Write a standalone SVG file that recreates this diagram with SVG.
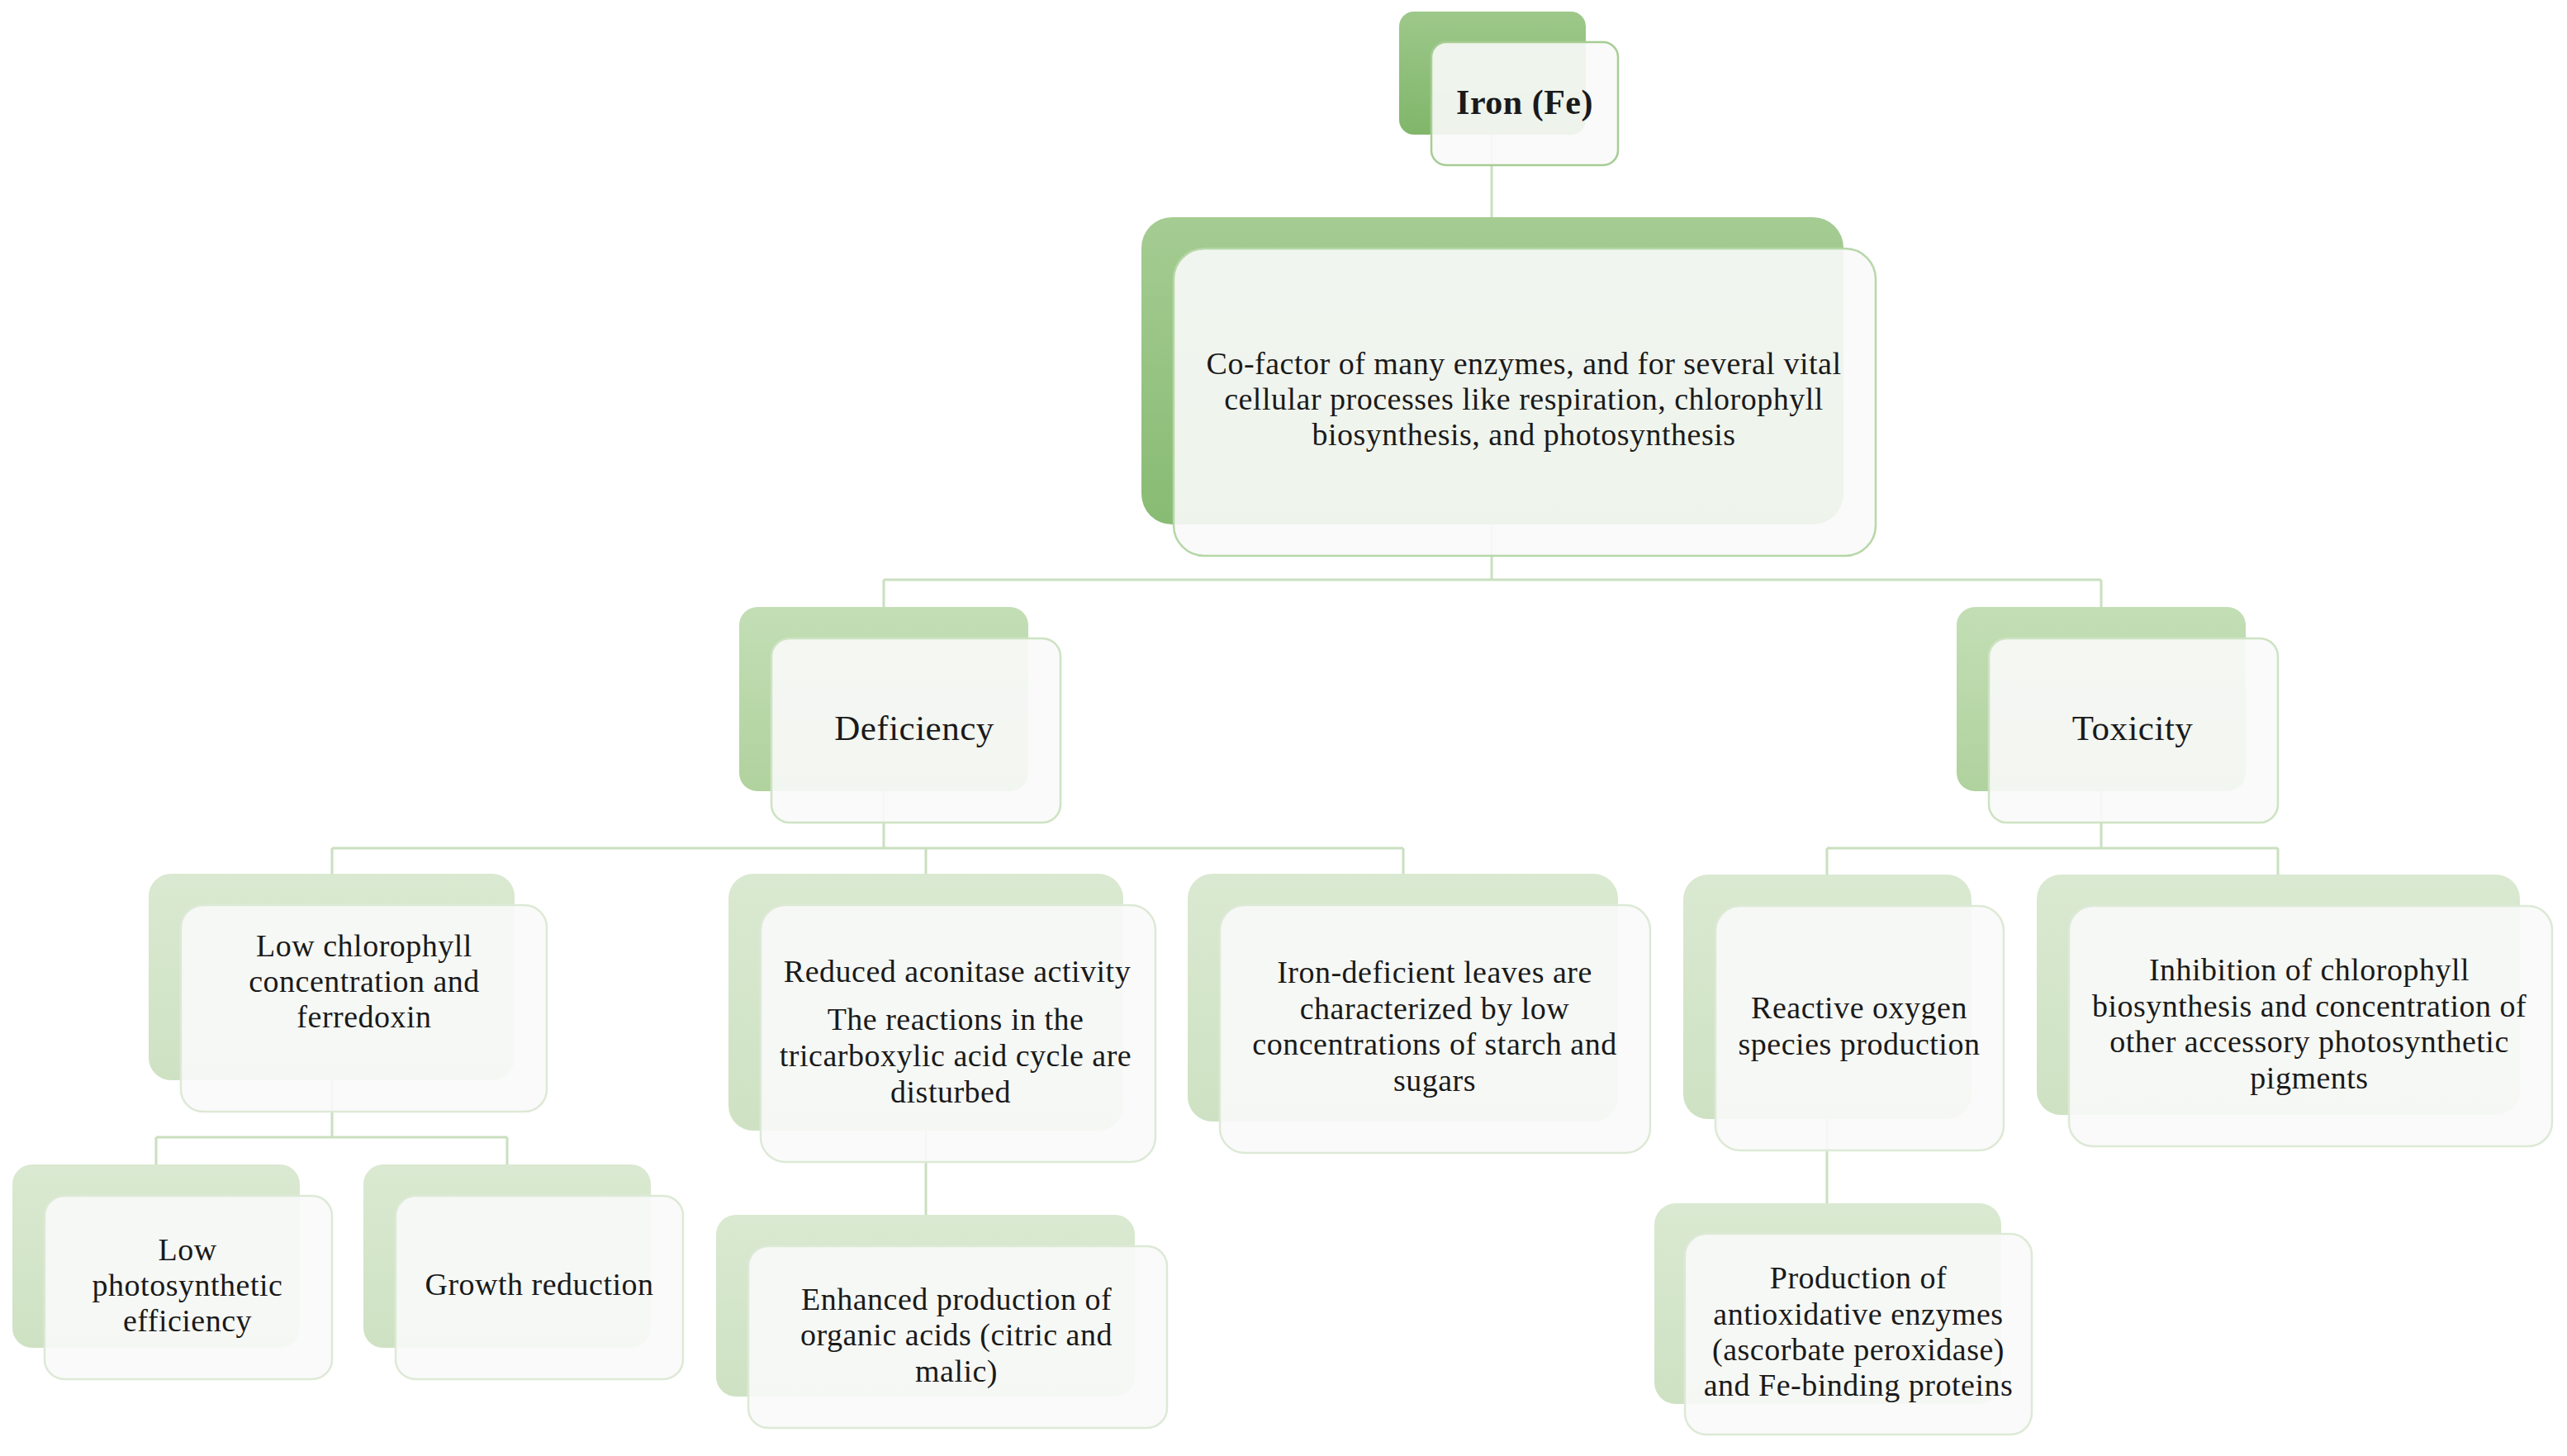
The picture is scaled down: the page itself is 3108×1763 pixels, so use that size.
<svg xmlns="http://www.w3.org/2000/svg" width="3108" height="1763" viewBox="0 0 3108 1763">
<defs>
<linearGradient id="g1" x1="0" y1="0" x2="0" y2="1"><stop offset="0" stop-color="#9dc88a"/><stop offset="1" stop-color="#80b66a"/></linearGradient>
<linearGradient id="g2" x1="0" y1="0" x2="0" y2="1"><stop offset="0" stop-color="#a5cc93"/><stop offset="1" stop-color="#88bb73"/></linearGradient>
<linearGradient id="g3" x1="0" y1="0" x2="0" y2="1"><stop offset="0" stop-color="#c3deb5"/><stop offset="1" stop-color="#b0d29e"/></linearGradient>
<linearGradient id="g4" x1="0" y1="0" x2="0" y2="1"><stop offset="0" stop-color="#dae9d1"/><stop offset="1" stop-color="#cee2c3"/></linearGradient>
</defs>
<style>
.front{fill:#fafafa;fill-opacity:0.9;stroke-width:2.5}
.f1{stroke:#a6cd94}.f2{stroke:#b6d7a7}.f3{stroke:#cde3c2}.f4{stroke:#dde9d6}
.b1{fill:url(#g1)}.b2{fill:url(#g2)}.b3{fill:url(#g3)}.b4{fill:url(#g4)}
text{font-family:"Liberation Serif","Times New Roman",serif;fill:#1a1a1a;text-anchor:middle;font-size:38px;letter-spacing:0.5px}
.title{font-size:43px}
.root{font-size:42px;font-weight:bold}
#connectors path{fill:none;stroke:#cadfbf;stroke-width:3}
</style>
<rect x="0" y="0" width="3108" height="1763" fill="#ffffff"/>
<g id="connectors">
<path d="M1806 163V263"/>
<path d="M1806 635V702M1070 702H2544M1070 702V735M2544 702V735"/>
<path d="M1070 958V1027M402 1027H1699M402 1027V1058M1121 1027V1058M1699 1027V1058"/>
<path d="M2544 958V1027M2212 1027H2758M2212 1027V1059M2758 1027V1059"/>
<path d="M402 1308V1377M189 1377H614M189 1377V1410M614 1377V1410"/>
<path d="M1121 1369V1471"/>
<path d="M2212 1355V1457"/>
</g>
<g id="node-iron">
<rect class="b1" x="1694" y="14" width="226" height="149" rx="18"/>
<rect class="front f1" x="1733" y="51" width="226" height="149" rx="18"/>
<text class="root" x="1846" y="138">Iron (Fe)</text>
</g>
<g id="node-main">
<rect class="b2" x="1382" y="263" width="850" height="372" rx="37"/>
<rect class="front f2" x="1421" y="301" width="850" height="372" rx="37"/>
<text x="1845" y="453">Co-factor of many enzymes, and for several vital</text>
<text x="1845" y="496">cellular processes like respiration, chlorophyll</text>
<text x="1845" y="539">biosynthesis, and photosynthesis</text>
</g>
<g id="node-deficiency">
<rect class="b3" x="895" y="735" width="350" height="223" rx="22"/>
<rect class="front f3" x="934" y="773" width="350" height="223" rx="22"/>
<text class="title" x="1107" y="896">Deficiency</text>
</g>
<g id="node-toxicity">
<rect class="b3" x="2369" y="735" width="350" height="223" rx="22"/>
<rect class="front f3" x="2408" y="773" width="350" height="223" rx="22"/>
<text class="title" x="2582" y="896">Toxicity</text>
</g>
<g id="node-low-chlorophyll">
<rect class="b4" x="180" y="1058" width="443" height="250" rx="27"/>
<rect class="front f4" x="219" y="1096" width="443" height="250" rx="27"/>
<text x="441" y="1158">Low chlorophyll</text>
<text x="441" y="1201">concentration and</text>
<text x="441" y="1244">ferredoxin</text>
</g>
<g id="node-aconitase">
<rect class="b4" x="882" y="1058" width="478" height="311" rx="30"/>
<rect class="front f4" x="921" y="1096" width="478" height="311" rx="30"/>
<text x="1159" y="1189">Reduced aconitase activity</text>
<text x="1157" y="1247">The reactions in the</text>
<text x="1157" y="1291">tricarboxylic acid cycle are</text>
<text x="1151" y="1335">disturbed</text>
</g>
<g id="node-iron-deficient-leaves">
<rect class="b4" x="1438" y="1058" width="521" height="300" rx="30"/>
<rect class="front f4" x="1477" y="1096" width="521" height="300" rx="30"/>
<text x="1737" y="1190">Iron-deficient leaves are</text>
<text x="1737" y="1234">characterized by low</text>
<text x="1737" y="1277">concentrations of starch and</text>
<text x="1737" y="1321">sugars</text>
</g>
<g id="node-ros">
<rect class="b4" x="2038" y="1059" width="349" height="296" rx="30"/>
<rect class="front f4" x="2077" y="1097" width="349" height="296" rx="30"/>
<text x="2251" y="1233">Reactive oxygen</text>
<text x="2251" y="1277">species production</text>
</g>
<g id="node-inhibition">
<rect class="b4" x="2466" y="1059" width="585" height="291" rx="29"/>
<rect class="front f4" x="2505" y="1097" width="585" height="291" rx="29"/>
<text x="2796" y="1187">Inhibition of chlorophyll</text>
<text x="2796" y="1231">biosynthesis and concentration of</text>
<text x="2796" y="1274">other accessory photosynthetic</text>
<text x="2796" y="1318">pigments</text>
</g>
<g id="node-low-photosynthetic">
<rect class="b4" x="15" y="1410" width="348" height="222" rx="24"/>
<rect class="front f4" x="54" y="1448" width="348" height="222" rx="24"/>
<text x="227" y="1526">Low</text>
<text x="227" y="1569">photosynthetic</text>
<text x="227" y="1612">efficiency</text>
</g>
<g id="node-growth">
<rect class="b4" x="440" y="1410" width="348" height="222" rx="24"/>
<rect class="front f4" x="479" y="1448" width="348" height="222" rx="24"/>
<text x="653" y="1568">Growth reduction</text>
</g>
<g id="node-organic-acids">
<rect class="b4" x="867" y="1471" width="507" height="220" rx="24"/>
<rect class="front f4" x="906" y="1509" width="507" height="220" rx="24"/>
<text x="1158" y="1586">Enhanced production of</text>
<text x="1158" y="1629">organic acids (citric and</text>
<text x="1158" y="1673">malic)</text>
</g>
<g id="node-antioxidative">
<rect class="b4" x="2003" y="1457" width="420" height="243" rx="26"/>
<rect class="front f4" x="2040" y="1494" width="420" height="243" rx="26"/>
<text x="2250" y="1560">Production of</text>
<text x="2250" y="1604">antioxidative enzymes</text>
<text x="2250" y="1647">(ascorbate peroxidase)</text>
<text x="2250" y="1690">and Fe-binding proteins</text>
</g>
</svg>
